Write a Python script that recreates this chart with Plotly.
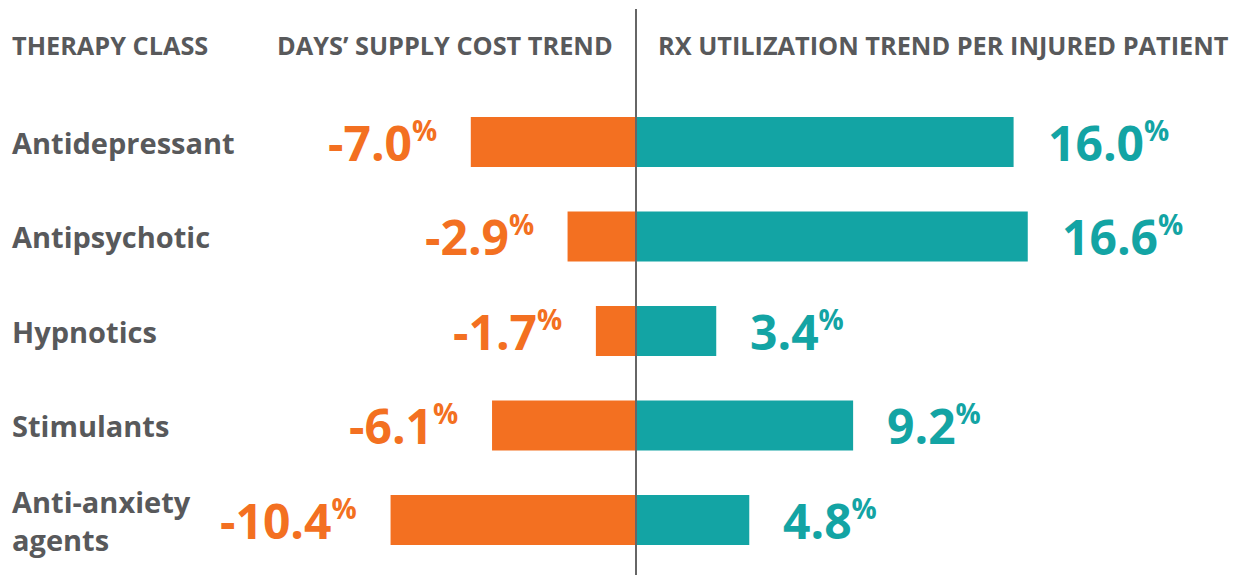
import plotly.graph_objects as go

categories = ["Antidepressant", "Antipsychotic", "Hypnotics", "Stimulants", "Anti-anxiety<br>agents"]
cost_trend = [-7.0, -2.9, -1.7, -6.1, -10.4]
util_trend = [16.0, 16.6, 3.4, 9.2, 4.8]
headers = ["THERAPY CLASS", "DAYS’ SUPPLY COST TREND", "RX UTILIZATION TREND PER INJURED PATIENT"]

ORANGE = "#F37021"
TEAL = "#13A4A4"
GRAY = "#58595B"
FONT = "Open Sans"

W, H = 1238, 575
zero_px = 636
px_per_unit = 23.6
row_top_px = 142
row_step = 94.5

y_idx = list(range(len(categories)))

fig = go.Figure()
fig.add_trace(go.Bar(x=cost_trend, y=y_idx, orientation="h", marker=dict(color=ORANGE, line=dict(width=0)),
                     width=0.53, hoverinfo="skip"))
fig.add_trace(go.Bar(x=util_trend, y=y_idx, orientation="h", marker=dict(color=TEAL, line=dict(width=0)),
                     width=0.53, hoverinfo="skip"))

annotations = []
hdr_font = dict(family=FONT, size=25.3, color=GRAY, weight="bold")
annotations.append(dict(text=headers[0], xref="paper", yref="paper", x=10 / W, y=1 - 45 / H,
                        xanchor="left", yanchor="middle", showarrow=False, font=hdr_font))
annotations.append(dict(text=headers[1], xref="paper", yref="paper", x=615 / W, y=1 - 45 / H,
                        xanchor="right", yanchor="middle", showarrow=False, font=hdr_font))
annotations.append(dict(text=headers[2], xref="paper", yref="paper", x=656 / W, y=1 - 45 / H,
                        xanchor="left", yanchor="middle", showarrow=False, font=hdr_font))

pct = "<sup><span style='font-size:28px'>%</span></sup>"
for i, cat in enumerate(categories):
    annotations.append(dict(text=cat, xref="paper", yref="y", x=10 / W, y=i, xanchor="left",
                            yanchor="middle", align="left", showarrow=False,
                            font=dict(family=FONT, size=29, color=GRAY, weight="bold")))
    annotations.append(dict(text=f"{cost_trend[i]:.1f}" + pct, xref="x", yref="y", x=cost_trend[i], y=i,
                            xanchor="right", yanchor="middle", xshift=-32, yshift=0, showarrow=False,
                            font=dict(family=FONT, size=48, color=ORANGE, weight="bold")))
    annotations.append(dict(text=f"{util_trend[i]:.1f}" + pct, xref="x", yref="y", x=util_trend[i], y=i,
                            xanchor="left", yanchor="middle", xshift=32, yshift=0, showarrow=False,
                            font=dict(family=FONT, size=48, color=TEAL, weight="bold")))

x_range = [-zero_px / px_per_unit, (W - zero_px) / px_per_unit]
top_val = -row_top_px / row_step
bottom_val = top_val + H / row_step

fig.update_layout(
    width=W, height=H,
    margin=dict(l=0, r=0, t=0, b=0),
    paper_bgcolor="white", plot_bgcolor="white",
    barmode="overlay", showlegend=False,
    xaxis=dict(range=x_range, visible=False, fixedrange=True),
    yaxis=dict(range=[bottom_val, top_val], visible=False, fixedrange=True),
    annotations=annotations,
    shapes=[dict(type="line", xref="x", yref="paper", x0=0, x1=0, y0=0, y1=1 - 9 / H,
                 line=dict(color="#666666", width=2))],
    font=dict(family=FONT),
)

fig.write_html("out.html", config=dict(displayModeBar=False),
               post_script="document.body.style.margin='0';document.body.style.padding='0';")
